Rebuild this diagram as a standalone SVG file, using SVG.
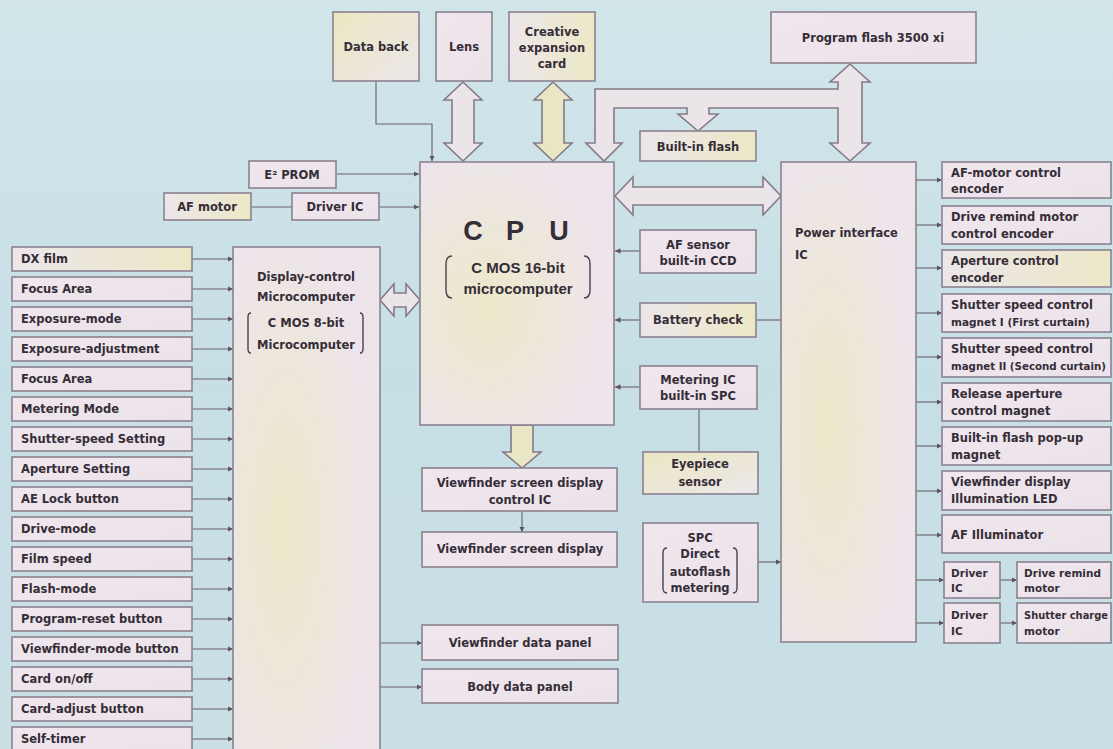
<svg xmlns="http://www.w3.org/2000/svg" width="1113" height="749" viewBox="0 0 1113 749">
<defs>
<linearGradient id="bg" x1="0" y1="0" x2="0" y2="1">
<stop offset="0" stop-color="#d2e6ea"/><stop offset="0.5" stop-color="#c6dfe5"/><stop offset="1" stop-color="#c9e0e5"/>
</linearGradient>
<linearGradient id="pk" x1="0" y1="0" x2="1" y2="1">
<stop offset="0" stop-color="#efe7ed"/><stop offset="1" stop-color="#ebe3e9"/>
</linearGradient>
<linearGradient id="yl" x1="0" y1="0" x2="1" y2="0">
<stop offset="0" stop-color="#ece6ea"/><stop offset="1" stop-color="#ece8c6"/>
</linearGradient>
<linearGradient id="yl2" x1="0" y1="0" x2="1" y2="1">
<stop offset="0" stop-color="#eae8c2"/><stop offset="1" stop-color="#ede6ea"/>
</linearGradient>
<radialGradient id="big" cx="0.35" cy="0.55" r="0.6">
<stop offset="0" stop-color="#ece9c9"/><stop offset="1" stop-color="#ede5eb"/>
</radialGradient>
<marker id="ah" viewBox="0 0 6 6" markerWidth="5" markerHeight="5" refX="6" refY="3" orient="auto">
<path d="M0,0 L6,3 L0,6 z" fill="#5d5463"/>
</marker>
<style>
.bx{stroke:#8b8290;stroke-width:1.6;fill:url(#pk)}
.by{stroke:#8b8290;stroke-width:1.6;fill:url(#yl)}
.bz{stroke:#8b8290;stroke-width:1.6;fill:url(#yl2)}
.bb{stroke:#8b8290;stroke-width:1.6;fill:url(#big)}
.ar{stroke:#857b88;stroke-width:1.6;fill:#ebe4e9;stroke-linejoin:miter}
.ary{stroke:#857b88;stroke-width:1.6;fill:#e8e6c4}
.ln{stroke:#6a6070;stroke-width:1.1;fill:none}
.lm{stroke:#6a6070;stroke-width:1.1;fill:none;marker-end:url(#ah)}
.pr{stroke:#4a4050;stroke-width:1.4;fill:none}
text{font-family:"DejaVu Sans","Liberation Sans",sans-serif;font-weight:bold;fill:#352d38;font-size:11.5px}
.c{text-anchor:middle}
.s{font-size:10.5px}
.cpu{font-size:27px;font-family:"Liberation Sans",sans-serif}
.m{font-size:15px;font-family:"Liberation Sans",sans-serif}
</style>
</defs>
<rect width="1113" height="749" fill="url(#bg)"/>

<g id="connectors">
<path class="lm" d="M376,81 V124 H432 V161"/>
<line class="lm" x1="337" y1="174" x2="419" y2="174"/>
<line class="ln" x1="251" y1="207" x2="292" y2="207"/>
<line class="lm" x1="379" y1="207" x2="419" y2="207"/>
<line class="lm" x1="640" y1="251" x2="615" y2="251"/>
<line class="lm" x1="640" y1="320" x2="615" y2="320"/>
<line class="ln" x1="756" y1="320" x2="781" y2="320"/>
<line class="lm" x1="640" y1="387" x2="615" y2="387"/>
<line class="ln" x1="699" y1="409" x2="699" y2="452"/>
<line class="lm" x1="758" y1="562" x2="781" y2="562"/>
<line class="lm" x1="522" y1="511" x2="522" y2="532"/>
<line class="lm" x1="380" y1="643" x2="422" y2="643"/>
<line class="lm" x1="380" y1="687" x2="422" y2="687"/>
<g>
<line class="lm" x1="192" y1="259" x2="233" y2="259"/>
<line class="lm" x1="192" y1="289" x2="233" y2="289"/>
<line class="lm" x1="192" y1="319" x2="233" y2="319"/>
<line class="lm" x1="192" y1="349" x2="233" y2="349"/>
<line class="lm" x1="192" y1="379" x2="233" y2="379"/>
<line class="lm" x1="192" y1="409" x2="233" y2="409"/>
<line class="lm" x1="192" y1="439" x2="233" y2="439"/>
<line class="lm" x1="192" y1="469" x2="233" y2="469"/>
<line class="lm" x1="192" y1="499" x2="233" y2="499"/>
<line class="lm" x1="192" y1="529" x2="233" y2="529"/>
<line class="lm" x1="192" y1="559" x2="233" y2="559"/>
<line class="lm" x1="192" y1="589" x2="233" y2="589"/>
<line class="lm" x1="192" y1="619" x2="233" y2="619"/>
<line class="lm" x1="192" y1="649" x2="233" y2="649"/>
<line class="lm" x1="192" y1="679" x2="233" y2="679"/>
<line class="lm" x1="192" y1="709" x2="233" y2="709"/>
<line class="lm" x1="192" y1="739" x2="233" y2="739"/>
</g>
<g>
<line class="lm" x1="916" y1="180" x2="942" y2="180"/>
<line class="lm" x1="916" y1="225" x2="942" y2="225"/>
<line class="lm" x1="916" y1="268" x2="942" y2="268"/>
<line class="lm" x1="916" y1="313" x2="942" y2="313"/>
<line class="lm" x1="916" y1="357" x2="942" y2="357"/>
<line class="lm" x1="916" y1="402" x2="942" y2="402"/>
<line class="lm" x1="916" y1="446" x2="942" y2="446"/>
<line class="lm" x1="916" y1="491" x2="942" y2="491"/>
<line class="lm" x1="916" y1="535" x2="942" y2="535"/>
<line class="lm" x1="916" y1="580" x2="944" y2="580"/>
<line class="lm" x1="916" y1="623" x2="944" y2="623"/>
<line class="lm" x1="1000" y1="580" x2="1017" y2="580"/>
<line class="lm" x1="1000" y1="623" x2="1017" y2="623"/>
</g>
<polygon class="ar" points="463,82 482,100 474,100 474,143 482,143 463,161 444,143 452,143 452,100 444,100"/>
<polygon class="ary" points="553,82 572,100 564,100 564,143 572,143 553,161 534,143 542,143 542,100 534,100"/>
<polygon class="ar" points="850,64 870,82 862,82 862,143 870,143 850,161 830,143 838,143 838,108 709,108 709,114 718,114 698,131 678,114 687,114 687,108 614,108 614,143 622,143 604,161 586,143 595,143 595,89 838,89 838,82 830,82"/>
<polygon class="ar" points="615,196 633,177 633,187 763,187 763,177 781,196 763,215 763,205 633,205 633,215"/>
<polygon class="ar" points="380,300 394,284 394,293 406,293 406,284 420,300 406,316 406,307 394,307 394,316"/>
<polygon class="ary" points="511,425 533,425 533,452 541,452 522,468 503,452 511,452"/>
</g>

<g id="data-back"><rect class="bz" x="333" y="12" width="86" height="69"/><text class="c" x="376" y="51">Data back</text></g>
<g id="lens"><rect class="bx" x="436" y="12" width="56" height="69"/><text class="c" x="464" y="51">Lens</text></g>
<g id="creative-card"><rect class="by" x="509" y="12" width="86" height="69"/><text class="c" x="552" y="36">Creative</text><text class="c" x="552" y="52">expansion</text><text class="c" x="552" y="68">card</text></g>
<g id="program-flash"><rect class="bx" x="771" y="12" width="205" height="51"/><text class="c" x="873" y="42">Program flash 3500 xi</text></g>
<g id="built-in-flash"><rect class="by" x="640" y="131" width="116" height="30"/><text class="c" x="698" y="151">Built-in flash</text></g>
<g id="e2prom"><rect class="bx" x="249" y="161" width="87" height="27"/><text class="c" x="292" y="179">E² PROM</text></g>
<g id="af-motor"><rect class="by" x="164" y="193" width="87" height="27"/><text class="c" x="207" y="211">AF motor</text></g>
<g id="driver-ic"><rect class="bx" x="292" y="193" width="87" height="27"/><text class="c" x="335" y="211">Driver IC</text></g>

<g id="cpu"><rect class="bb" x="420" y="162" width="194" height="263"/>
<text class="cpu" x="473" y="240" text-anchor="middle">C</text><text class="cpu" x="515" y="240" text-anchor="middle">P</text><text class="cpu" x="559" y="240" text-anchor="middle">U</text>
<text class="m c" x="518" y="273">C MOS 16-bit</text><text class="m c" x="518" y="294">microcomputer</text>
<path class="pr" d="M452,256 Q446,256 446,264 V290 Q446,298 452,298"/>
<path class="pr" d="M584,256 Q590,256 590,264 V290 Q590,298 584,298"/>
</g>

<g id="af-sensor"><rect class="bx" x="640" y="230" width="116" height="43"/><text class="c" x="698" y="249">AF sensor</text><text class="c" x="698" y="265">built-in CCD</text></g>
<g id="battery-check"><rect class="by" x="640" y="303" width="116" height="34"/><text class="c" x="698" y="324">Battery check</text></g>
<g id="metering-ic"><rect class="bx" x="640" y="366" width="117" height="43"/><text class="c" x="698" y="384">Metering IC</text><text class="c" x="698" y="400">built-in SPC</text></g>
<g id="eyepiece-sensor"><rect class="bz" x="643" y="452" width="115" height="42"/><text class="c" x="700" y="468">Eyepiece</text><text class="c" x="700" y="486">sensor</text></g>
<g id="spc"><rect class="bx" x="643" y="523" width="115" height="79"/>
<text class="c" x="700" y="542">SPC</text><text class="c" x="700" y="558">Direct</text><text class="c" x="700" y="576">autoflash</text><text class="c" x="700" y="592">metering</text>
<path class="pr" d="M667,548 Q663,548 663,553 V588 Q663,593 667,593"/>
<path class="pr" d="M733,548 Q737,548 737,553 V588 Q737,593 733,593"/>
</g>

<g id="vf-control-ic"><rect class="bx" x="422" y="468" width="195" height="43"/><text class="c" x="520" y="487">Viewfinder screen display</text><text class="c" x="520" y="504">control IC</text></g>
<g id="vf-screen-display"><rect class="bx" x="422" y="532" width="195" height="35"/><text class="c" x="520" y="553">Viewfinder screen display</text></g>
<g id="vf-data-panel"><rect class="bx" x="422" y="625" width="196" height="35"/><text class="c" x="520" y="647">Viewfinder data panel</text></g>
<g id="body-data-panel"><rect class="bx" x="422" y="669" width="196" height="34"/><text class="c" x="520" y="691">Body data panel</text></g>

<g id="display-control"><rect class="bb" x="233" y="247" width="147" height="510"/>
<text class="c" x="306" y="281">Display-control</text><text class="c" x="306" y="301">Microcomputer</text>
<text class="c" x="306" y="327">C MOS 8-bit</text><text class="c" x="306" y="349">Microcomputer</text>
<path class="pr" d="M251,313 Q248,313 248,317 V349 Q248,353 251,353"/>
<path class="pr" d="M360,313 Q363,313 363,317 V349 Q363,353 360,353"/>
</g>

<g id="power-interface"><rect class="bb" x="781" y="162" width="135" height="480"/><text x="795" y="237">Power interface</text><text x="795" y="259">IC</text></g>

<g id="left-inputs">
<g id="in-dx"><rect class="by" x="12" y="247" width="180" height="24"/><text x="21" y="263">DX film</text></g>
<g id="in-focus1"><rect class="bx" x="12" y="277" width="180" height="24"/><text x="21" y="293">Focus Area</text></g>
<g id="in-expmode"><rect class="bx" x="12" y="307" width="180" height="24"/><text x="21" y="323">Exposure-mode</text></g>
<g id="in-expadj"><rect class="bx" x="12" y="337" width="180" height="24"/><text x="21" y="353">Exposure-adjustment</text></g>
<g id="in-focus2"><rect class="bx" x="12" y="367" width="180" height="24"/><text x="21" y="383">Focus Area</text></g>
<g id="in-metering"><rect class="bx" x="12" y="397" width="180" height="24"/><text x="21" y="413">Metering Mode</text></g>
<g id="in-shutter"><rect class="bx" x="12" y="427" width="180" height="24"/><text x="21" y="443">Shutter-speed Setting</text></g>
<g id="in-aperture"><rect class="bx" x="12" y="457" width="180" height="24"/><text x="21" y="473">Aperture Setting</text></g>
<g id="in-ae"><rect class="bx" x="12" y="487" width="180" height="24"/><text x="21" y="503">AE Lock button</text></g>
<g id="in-drive"><rect class="bx" x="12" y="517" width="180" height="24"/><text x="21" y="533">Drive-mode</text></g>
<g id="in-film"><rect class="bx" x="12" y="547" width="180" height="24"/><text x="21" y="563">Film speed</text></g>
<g id="in-flash"><rect class="bx" x="12" y="577" width="180" height="24"/><text x="21" y="593">Flash-mode</text></g>
<g id="in-reset"><rect class="bx" x="12" y="607" width="180" height="24"/><text x="21" y="623">Program-reset button</text></g>
<g id="in-vfmode"><rect class="bx" x="12" y="637" width="180" height="24"/><text x="21" y="653">Viewfinder-mode button</text></g>
<g id="in-card"><rect class="bx" x="12" y="667" width="180" height="24"/><text x="21" y="683">Card on/off</text></g>
<g id="in-cardadj"><rect class="bx" x="12" y="697" width="180" height="24"/><text x="21" y="713">Card-adjust button</text></g>
<g id="in-self"><rect class="bx" x="12" y="727" width="180" height="24"/><text x="21" y="743">Self-timer</text></g>
</g>

<g id="right-outputs">
<g id="out-afenc"><rect class="bx" x="942" y="162" width="169" height="36"/><text x="951" y="177">AF-motor control</text><text x="951" y="193">encoder</text></g>
<g id="out-drenc"><rect class="bx" x="942" y="206" width="169" height="38"/><text x="951" y="221">Drive remind motor</text><text x="951" y="238">control encoder</text></g>
<g id="out-apenc"><rect class="by" x="942" y="250" width="169" height="37"/><text x="951" y="265">Aperture control</text><text x="951" y="282">encoder</text></g>
<g id="out-sh1"><rect class="bx" x="942" y="294" width="169" height="38"/><text x="951" y="309">Shutter speed control</text><text x="951" y="326" class="s">magnet I (First curtain)</text></g>
<g id="out-sh2"><rect class="bx" x="942" y="338" width="169" height="39"/><text x="951" y="353">Shutter speed control</text><text x="951" y="370" class="s" textLength="155" lengthAdjust="spacingAndGlyphs">magnet II (Second curtain)</text></g>
<g id="out-release"><rect class="bx" x="942" y="383" width="169" height="38"/><text x="951" y="398">Release aperture</text><text x="951" y="415">control magnet</text></g>
<g id="out-popup"><rect class="bx" x="942" y="427" width="169" height="38"/><text x="951" y="442">Built-in flash pop-up</text><text x="951" y="459">magnet</text></g>
<g id="out-led"><rect class="bx" x="942" y="471" width="169" height="39"/><text x="951" y="486">Viewfinder display</text><text x="951" y="503">Illumination LED</text></g>
<g id="out-afill"><rect class="bx" x="942" y="515" width="169" height="38"/><text x="951" y="539">AF Illuminator</text></g>
<g id="out-drv1"><rect class="bx" x="944" y="562" width="56" height="36"/><text x="951" y="577" class="s">Driver</text><text x="951" y="592" class="s">IC</text></g>
<g id="out-drmotor"><rect class="bx" x="1017" y="562" width="94" height="36"/><text x="1024" y="577" class="s">Drive remind</text><text x="1024" y="592" class="s">motor</text></g>
<g id="out-drv2"><rect class="bx" x="944" y="603" width="56" height="40"/><text x="951" y="619" class="s">Driver</text><text x="951" y="635" class="s">IC</text></g>
<g id="out-shmotor"><rect class="bx" x="1017" y="603" width="94" height="40"/><text x="1024" y="619" class="s" textLength="84" lengthAdjust="spacingAndGlyphs">Shutter charge</text><text x="1024" y="635" class="s">motor</text></g>
</g>
</svg>
